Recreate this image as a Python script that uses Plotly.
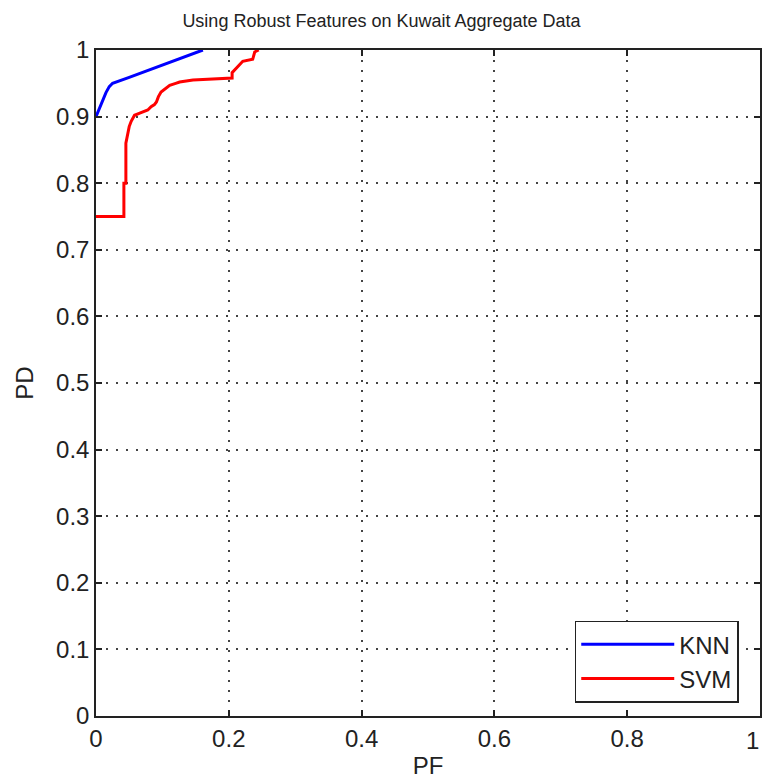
import plotly.graph_objects as go

knn_pf = [0.0, 0.005, 0.010, 0.015, 0.020, 0.025, 0.050, 0.100, 0.140, 0.161]
knn_pd = [0.900, 0.912, 0.925, 0.936, 0.945, 0.950, 0.959, 0.977, 0.992, 1.0]

svm_pf = [0.0, 0.042, 0.042, 0.045, 0.045, 0.048, 0.050, 0.053, 0.058, 0.065, 0.071, 0.078,
          0.083, 0.088, 0.091, 0.094, 0.098, 0.105, 0.111, 0.120, 0.126, 0.146, 0.205, 0.205,
          0.211, 0.221, 0.236, 0.239, 0.245]
svm_pd = [0.75, 0.75, 0.80, 0.80, 0.86, 0.875, 0.885, 0.893, 0.902, 0.905, 0.907, 0.910,
          0.915, 0.918, 0.922, 0.930, 0.937, 0.943, 0.947, 0.950, 0.952, 0.955, 0.958, 0.966,
          0.973, 0.983, 0.986, 0.997, 1.0]

tick_vals_x = [0, 0.2, 0.4, 0.6, 0.8, 1]
tick_text_x = ["0", "0.2", "0.4", "0.6", "0.8", "1"]
tick_vals_y = [0, 0.1, 0.2, 0.3, 0.4, 0.5, 0.6, 0.7, 0.8, 0.9, 1]
tick_text_y = ["0", "0.1", "0.2", "0.3", "0.4", "0.5", "0.6", "0.7", "0.8", "0.9", "1"]

FONT = "Liberation Sans, Arial, sans-serif"

fig = go.Figure()
fig.add_trace(go.Scatter(x=knn_pf, y=knn_pd, mode="lines", name="KNN",
                         line=dict(color="#0000FF", width=3)))
fig.add_trace(go.Scatter(x=svm_pf, y=svm_pd, mode="lines", name="SVM",
                         line=dict(color="#FF0000", width=3)))

axis_common = dict(
    showline=True, linecolor="#222222", linewidth=1.5, mirror="ticks",
    ticks="inside", ticklen=6, tickcolor="#222222", tickwidth=1.5,
    showgrid=True, gridcolor="#444444", gridwidth=1.5, griddash="1.5px,8.5px",
    zeroline=False, tickfont=dict(family=FONT, size=24, color="#222222"),
)

fig.update_layout(
    width=763, height=781,
    margin=dict(l=96, r=1, t=50, b=65),
    paper_bgcolor="white", plot_bgcolor="white",
    title=dict(text="Using Robust Features on Kuwait Aggregate Data",
               x=0.5, xanchor="center", y=0.974, yanchor="middle",
               font=dict(family=FONT, size=18, color="#222222")),
    xaxis=dict(range=[0, 1], tickvals=tick_vals_x, ticktext=tick_text_x,
               title=dict(text="PF", font=dict(family=FONT, size=24, color="#222222"), standoff=7),
               **axis_common),
    yaxis=dict(range=[0, 1], tickvals=tick_vals_y, ticktext=tick_text_y,
               title=dict(text="PD", font=dict(family=FONT, size=24, color="#222222"), standoff=16),
               **axis_common),
    legend=dict(x=0.721, y=0.143, xanchor="left", yanchor="top",
                bgcolor="white", bordercolor="#222222", borderwidth=1.5,
                font=dict(family=FONT, size=24, color="#222222"),
                itemwidth=93, tracegroupgap=2),
    showlegend=True,
)

# right-most x tick label sits at the figure edge
fig.add_annotation(x=tick_vals_x[-1], y=0, xref="x", yref="paper", text=tick_text_x[-1],
                   showarrow=False, xanchor="right", xshift=1, yanchor="top", yshift=-9,
                   font=dict(family=FONT, size=24, color="#222222"))

fig.write_html("out.html")
